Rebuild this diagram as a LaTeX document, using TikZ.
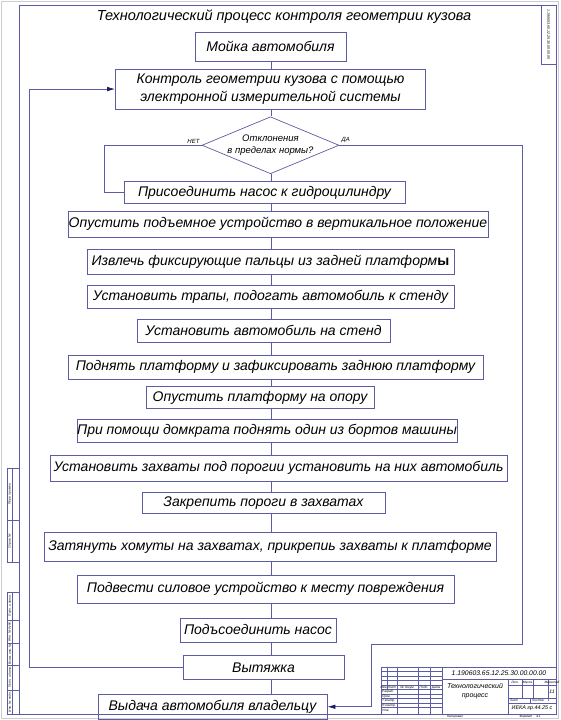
\documentclass[tikz,border=0pt]{standalone}
\usepackage{fontspec}
\setmainfont{Liberation Sans}
\usepackage{xcolor}
\usepackage{tikz}
\usetikzlibrary{positioning}
\usetikzlibrary{arrows.meta, shapes.geometric}

\definecolor{cadline}{RGB}{92,92,165}
\definecolor{cadarrow}{RGB}{30,30,95}
\definecolor{sheetgray}{RGB}{205,205,205}

\begin{document}
\begin{tikzpicture}[
			x=1pt, y=-1pt,
			font=\fontsize{14}{16}\selectfont\itshape,
			proc/.style={
				draw=cadline,
				line width=0.7pt,
				rectangle,
				inner sep=0pt,
				align=center
			},
			decision/.style={
				draw=cadline,
				line width=0.7pt,
				diamond,
				aspect=2.4,
				inner sep=0pt,
				align=center,
				font=\fontsize{9.5}{12}\selectfont\itshape
			},
			lbl/.style={font=\fontsize{6}{7}\selectfont\itshape, inner sep=0pt},
			stamp/.style={font=\fontsize{3.2}{3.6}\selectfont\itshape, inner sep=0pt},
			link/.style={draw=cadline, line width=0.7pt},
			arrow/.style={link, -{Latex[length=8pt, width=4.5pt, color=cadarrow]}},
			sheet/.style={draw=cadline, line width=0.9pt},
			cell/.style={draw=cadline, line width=0.4pt},
			node distance=7pt
			]
			
			\useasboundingbox (0,0) rectangle (560,720);
			
			% -------------------------------
			% ЛИСТ И РАМКА
			% -------------------------------
			\draw[sheetgray, line width=0.8pt] (1.5,1.5) rectangle (558.5,718.5);
			\draw[sheet] (19,5) rectangle (556,714);
			
			\draw[cell] (541,5) rectangle (556,64);
			\node[stamp, font=\fontsize{3.6}{4}\selectfont\itshape, rotate=-90] (codev) at (548.5,34.5) {1.190603.65.12.25.30.00.00.00};
			
			% левая полоса
			\draw[cell] (7,468) rectangle (19,562);
			\draw[cell] (7,520) -- (19,520);
			\draw[cell] (12.5,468) -- (12.5,562);
			\node[stamp, rotate=90] (perv) at (9.75,494) {Перв. примен.};
			\node[stamp, rotate=90] (sprav) at (9.75,541) {Справ. №};
			
			\draw[cell] (7,592) rectangle (19,714);
			\draw[cell] (7,620) -- (19,620);
			\draw[cell] (7,643) -- (19,643);
			\draw[cell] (7,665) -- (19,665);
			\draw[cell] (7,690) -- (19,690);
			\draw[cell] (12.5,592) -- (12.5,714);
			\node[stamp, rotate=90] (podp1) at (9.75,606) {Подп. и дата};
			\node[stamp, rotate=90] (dubl) at (9.75,631.5) {Инв. № дубл.};
			\node[stamp, rotate=90] (vzam) at (9.75,654) {Взам. инв. №};
			\node[stamp, rotate=90] (podp2) at (9.75,677.5) {Подп. и дата};
			\node[stamp, rotate=90] (podl) at (9.75,702) {Инв. № подл.};
			
			% -------------------------------
			% ОСНОВНАЯ НАДПИСЬ
			% -------------------------------
			\draw[sheet] (381,667) rectangle (556,714);
			\draw[sheet] (442,667) -- (442,714);
			\draw[sheet] (442,679) -- (556,679);
			\draw[sheet] (508,679) -- (508,714);
			\draw[cell] (508,685) -- (556,685);
			\draw[sheet] (508,698) -- (556,698);
			\draw[cell] (508,703) -- (556,703);
			\draw[cell] (522,679) -- (522,698);
			\draw[cell] (533,679) -- (533,698);
			\draw[cell] (548,679) -- (548,698);
			\draw[cell] (530,698) -- (530,703);
			
			\draw[cell] (381,671.5) -- (442,671.5);
			\draw[cell] (381,676) -- (442,676);
			\draw[cell] (381,680.5) -- (442,680.5);
			\draw[sheet] (381,685) -- (442,685);
			\draw[sheet] (381,689.5) -- (442,689.5);
			\draw[cell] (381,694) -- (442,694);
			\draw[cell] (381,698.5) -- (442,698.5);
			\draw[cell] (381,703) -- (442,703);
			\draw[cell] (381,707.5) -- (442,707.5);
			\draw[cell] (387,667) -- (387,689.5);
			\draw[sheet] (397,667) -- (397,714);
			\draw[sheet] (418,667) -- (418,714);
			\draw[sheet] (430,667) -- (430,714);
			
			\node[stamp] (izm) at (384,687.25) {Изм.};
			\node[stamp] (list) at (392,687.25) {Лист};
			\node[stamp] (dokum) at (407.5,687.25) {№ докум.};
			\node[stamp] (podp) at (424,687.25) {Подп.};
			\node[stamp] (data) at (436,687.25) {Дата};
			\node[stamp, anchor=west] (razrab) at (382,691.75) {Разраб.};
			\node[stamp, anchor=west] (prov) at (382,696.25) {Пров.};
			\node[stamp, anchor=west] (tkontr) at (382,700.75) {Т.контр.};
			\node[stamp, anchor=west] (nkontr) at (382,705.25) {Н.контр.};
			\node[stamp, anchor=west] (utv) at (382,710.75) {Утв.};
			
			\node[font=\fontsize{6.8}{8}\selectfont\itshape, inner sep=0pt] (code) at (499,673.5) {1.190603.65.12.25.30.00.00.00};
			\node[font=\fontsize{7}{8.5}\selectfont\itshape, inner sep=0pt, align=center] (name) at (475,691) {Технологический\\процесс};
			\node[stamp] (lit) at (515,682) {Лит.};
			\node[stamp] (massa) at (527.5,682) {Масса};
			\node[stamp] (mashtab) at (552,682) {Масштаб};
			\node[font=\fontsize{5}{6}\selectfont\itshape, inner sep=0pt] (nlist) at (552,691.5) {11};
			\node[stamp] (listn) at (514,700.5) {Лист};
			\node[stamp] (listov) at (541,700.5) {Листов \quad 1};
			\node[font=\fontsize{5.4}{6.5}\selectfont\itshape, inner sep=0pt] (grp) at (532,708.5) {ИЕКА гр.44.25 с};
			\node[stamp] (kopir) at (455,716.5) {Копировал};
			\node[stamp] (format) at (530,716.5) {Формат \quad А1};
			
			% -------------------------------
			% ЗАГОЛОВОК
			% -------------------------------
			\node[font=\fontsize{14.5}{16}\selectfont\itshape] (title) at (284,17) {Технологический процесс контроля геометрии кузова};
			
			% -------------------------------
			% ЭТАПЫ
			% -------------------------------
			\node[proc, anchor=north, minimum width=151pt, minimum height=29pt] (moika) at (270.5,32) {Мойка автомобиля};
			\node[proc, below=of moika, minimum width=310pt, minimum height=40pt, font=\fontsize{14}{18}\selectfont\itshape] (kontrol) {Контроль геометрии кузова с помощью\\электронной измерительной системы};
			\node[decision, below=of kontrol, minimum width=137pt, minimum height=57pt] (dec) {Отклонения\\в пределах нормы?};
			\node[proc, below=of dec, xshift=-6pt, minimum width=281pt, minimum height=22pt] (prisoed) {Присоединить насос к гидроцилиндру};
			\node[proc, below=of prisoed, xshift=13.5pt, minimum width=420pt, minimum height=26pt] (opust) {Опустить подъемное устройство в вертикальное положение};
			\node[proc, below=11pt of opust, xshift=-7.5pt, minimum width=367pt, minimum height=25pt] (izvl) {Извлечь фиксирующие пальцы из задней платформ{\upshape\bfseries ы}};
			\node[proc, below=11pt of izvl, minimum width=367pt, minimum height=23pt] (trapy) {Установить трапы, подогать автомобиль к стенду};
			\node[proc, below=10pt of trapy, xshift=-7pt, minimum width=253pt, minimum height=23pt] (stend) {Установить автомобиль на стенд};
			\node[proc, below=12pt of stend, xshift=12pt, minimum width=415pt, minimum height=24pt] (podnyat) {Поднять платформу и зафиксировать заднюю платформу};
			\node[proc, below=of podnyat, xshift=-15.5pt, minimum width=228pt, minimum height=22pt] (opora) {Опустить платформу на опору};
			\node[proc, below=10pt of opora, xshift=7pt, minimum width=380pt, minimum height=23pt] (domkrat) {При помощи домкрата поднять один из бортов машины};
			\node[proc, below=12pt of domkrat, xshift=11.5pt, minimum width=457pt, minimum height=26pt] (zahvaty) {Установить захваты под порогии установить на них автомобиль};
			\node[proc, below=11pt of zahvaty, xshift=-15pt, minimum width=243pt, minimum height=21pt] (porogi) {Закрепить пороги в захватах};
			\node[proc, below=18pt of porogi, xshift=6.5pt, minimum width=452pt, minimum height=29pt] (homuty) {Затянуть хомуты на захватах, прикрепиь захваты к платформе};
			\node[proc, below=13pt of homuty, xshift=-4.5pt, minimum width=377pt, minimum height=28pt] (silovoe) {Подвести силовое устройство к месту повреждения};
			\node[proc, below=14pt of silovoe, xshift=-7.5pt, minimum width=156pt, minimum height=24pt] (nasos) {Подъсоединить насос};
			\node[proc, below=13pt of nasos, xshift=5.5pt, minimum width=161pt, minimum height=24pt] (vytyazhka) {Вытяжка};
			\node[proc, below=14pt of vytyazhka, xshift=-51pt, minimum width=229pt, minimum height=25pt] (vydacha) {Выдача автомобиля владельцу};
			
			\node[lbl, above left=2pt and 2pt of dec.west] (net) {НЕТ};
			\node[lbl, above right=2pt and 2pt of dec.east] (da) {ДА};
			
			% -------------------------------
			% СВЯЗИ
			% -------------------------------
			\coordinate (spine) at (271,0);
			\coordinate (netx) at (104,0);
			\coordinate (loopx) at (29,0);
			\coordinate (dacorner) at (522,644);
			\coordinate (dadrop) at (371,644);
			
			\draw[link] (moika.south -| spine)     -- (kontrol.north -| spine);
			\draw[link] (kontrol.south -| spine)   -- (dec.north -| spine);
			\draw[link] (dec.south -| spine)       -- (prisoed.north -| spine);
			\draw[link] (prisoed.south -| spine)   -- (opust.north -| spine);
			\draw[link] (opust.south -| spine)     -- (izvl.north -| spine);
			\draw[link] (izvl.south -| spine)      -- (trapy.north -| spine);
			\draw[link] (trapy.south -| spine)     -- (stend.north -| spine);
			\draw[link] (stend.south -| spine)     -- (podnyat.north -| spine);
			\draw[link] (podnyat.south -| spine)   -- (opora.north -| spine);
			\draw[link] (opora.south -| spine)     -- (domkrat.north -| spine);
			\draw[link] (domkrat.south -| spine)   -- (zahvaty.north -| spine);
			\draw[link] (zahvaty.south -| spine)   -- (porogi.north -| spine);
			\draw[link] (porogi.south -| spine)    -- (homuty.north -| spine);
			\draw[link] (homuty.south -| spine)    -- (silovoe.north -| spine);
			\draw[link] (silovoe.south -| spine)   -- (nasos.north -| spine);
			\draw[link] (nasos.south -| spine)     -- (vytyazhka.north -| spine);
			\draw[link] (vytyazhka.south -| spine) -- (vydacha.north -| spine);
			
			\draw[link] (dec.west) -- (dec.west -| netx) |- (prisoed.west);
			\draw[arrow] (dec.east) -| (dacorner) -- (dadrop) |- (vydacha.east);
			\draw[arrow] (vytyazhka.west) -- (vytyazhka.west -| loopx) |- (kontrol.west);
			
		\end{tikzpicture}
\end{document}
